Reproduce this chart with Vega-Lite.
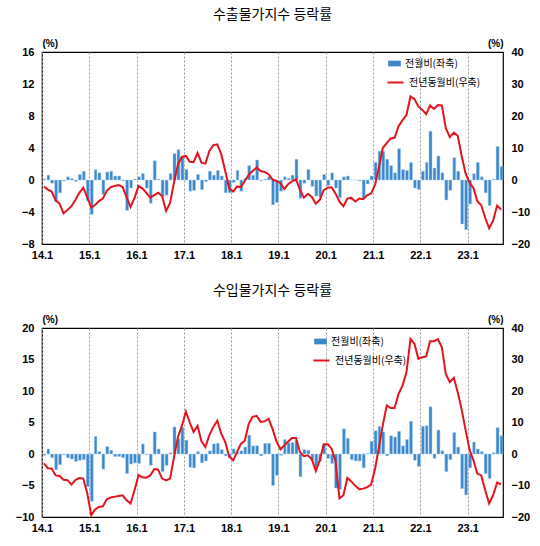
{
  "$schema": "https://vega.github.io/schema/vega-lite/v6.json",
  "padding": {"left": 14, "right": 10, "top": 7, "bottom": 4},
  "spacing": 22,
  "resolve": {"scale": {"color": "independent", "stroke": "independent"}},
  "config": {
    "view": {"stroke": "#000", "strokeWidth": 1.2},
    "font": "Liberation Sans",
    "axis": {
      "labelFont": "Liberation Sans",
      "labelFontWeight": "bold",
      "labelFontSize": 11,
      "labelColor": "#000",
      "labelOverlap": false,
      "ticks": false,
      "domain": false,
      "grid": false,
      "titleFont": "Liberation Sans",
      "titleFontWeight": "bold",
      "titleFontSize": 10,
      "titleColor": "#000"
    },
    "title": {"font": "Noto Sans CJK KR", "fontSize": 14, "fontWeight": "normal", "color": "#000", "anchor": "middle", "offset": 16},
    "legend": {"labelFont": "Noto Sans CJK KR", "labelFontSize": 10, "labelColor": "#000", "title": null}
  },
  "vconcat": [
    {
      "title": "수출물가지수 등락률",
      "width": 461,
      "height": 192,
      "data": {
        "format": {"parse": {"d": "date:'%Y-%m'"}},
        "values": [
          {"d": "2014-01", "m": 0.1, "y": -2.0}, {"d": "2014-02", "m": 0.6, "y": -3.0}, {"d": "2014-03", "m": -0.4, "y": -3.6},
          {"d": "2014-04", "m": -2.7, "y": -6.4}, {"d": "2014-05", "m": -1.6, "y": -7.4}, {"d": "2014-06", "m": -0.1, "y": -10.4},
          {"d": "2014-07", "m": 0.4, "y": -9.4}, {"d": "2014-08", "m": 0.2, "y": -8.2}, {"d": "2014-09", "m": -0.2, "y": -6.2},
          {"d": "2014-10", "m": 0.7, "y": -4.0}, {"d": "2014-11", "m": 1.1, "y": -2.4}, {"d": "2014-12", "m": -2.6, "y": -5.4},
          {"d": "2015-01", "m": -4.3, "y": -8.6}, {"d": "2015-02", "m": 1.3, "y": -7.8}, {"d": "2015-03", "m": 0.9, "y": -6.6},
          {"d": "2015-04", "m": -1.8, "y": -5.8}, {"d": "2015-05", "m": 1.0, "y": -3.4}, {"d": "2015-06", "m": 1.1, "y": -2.2},
          {"d": "2015-07", "m": 0.5, "y": -1.9}, {"d": "2015-08", "m": 0.5, "y": -1.6}, {"d": "2015-09", "m": -0.1, "y": -2.2},
          {"d": "2015-10", "m": -3.8, "y": -5.4}, {"d": "2015-11", "m": -1.0, "y": -8.4}, {"d": "2015-12", "m": 0.1, "y": -5.6},
          {"d": "2016-01", "m": 0.4, "y": -1.9}, {"d": "2016-02", "m": 0.8, "y": -2.6}, {"d": "2016-03", "m": -1.0, "y": -4.0},
          {"d": "2016-04", "m": -2.9, "y": -5.5}, {"d": "2016-05", "m": 2.4, "y": -4.7}, {"d": "2016-06", "m": 0.1, "y": -4.0},
          {"d": "2016-07", "m": -2.1, "y": -5.0}, {"d": "2016-08", "m": -1.9, "y": -9.7}, {"d": "2016-09", "m": 0.8, "y": -7.2},
          {"d": "2016-10", "m": 3.3, "y": -0.8}, {"d": "2016-11", "m": 3.8, "y": 4.9}, {"d": "2016-12", "m": 2.9, "y": 7.2},
          {"d": "2017-01", "m": 1.3, "y": 7.5}, {"d": "2017-02", "m": -1.4, "y": 5.7}, {"d": "2017-03", "m": -1.3, "y": 5.6},
          {"d": "2017-04", "m": 0.7, "y": 8.5}, {"d": "2017-05", "m": -1.2, "y": 5.4}, {"d": "2017-06", "m": -0.2, "y": 5.1},
          {"d": "2017-07", "m": 1.1, "y": 9.1}, {"d": "2017-08", "m": 0.6, "y": 10.9}, {"d": "2017-09", "m": 1.2, "y": 11.1},
          {"d": "2017-10", "m": 0.5, "y": 8.0}, {"d": "2017-11", "m": -1.6, "y": 2.8}, {"d": "2017-12", "m": -1.6, "y": -2.6},
          {"d": "2018-01", "m": -0.3, "y": -3.6}, {"d": "2018-02", "m": 1.2, "y": -2.0}, {"d": "2018-03", "m": -1.4, "y": -2.2},
          {"d": "2018-04", "m": 0.2, "y": -0.3}, {"d": "2018-05", "m": 1.8, "y": 1.6}, {"d": "2018-06", "m": 0.6, "y": 2.8},
          {"d": "2018-07", "m": 2.5, "y": 3.9}, {"d": "2018-08", "m": -0.1, "y": 2.8}, {"d": "2018-09", "m": 0.1, "y": 2.5},
          {"d": "2018-10", "m": 0.4, "y": 1.8}, {"d": "2018-11", "m": -3.1, "y": 0.2}, {"d": "2018-12", "m": -2.8, "y": -0.3},
          {"d": "2019-01", "m": -1.4, "y": -1.0}, {"d": "2019-02", "m": 0.4, "y": -2.8}, {"d": "2019-03", "m": 0.2, "y": -1.3},
          {"d": "2019-04", "m": 0.6, "y": -0.4}, {"d": "2019-05", "m": 2.6, "y": 0.2}, {"d": "2019-06", "m": -2.3, "y": -3.0},
          {"d": "2019-07", "m": -0.4, "y": -5.5}, {"d": "2019-08", "m": 1.3, "y": -4.3}, {"d": "2019-09", "m": -0.8, "y": -5.3},
          {"d": "2019-10", "m": -2.0, "y": -7.4}, {"d": "2019-11", "m": -2.1, "y": -6.2}, {"d": "2019-12", "m": 0.7, "y": -3.2},
          {"d": "2020-01", "m": -0.7, "y": -2.4}, {"d": "2020-02", "m": 0.9, "y": -2.3}, {"d": "2020-03", "m": -1.0, "y": -4.2},
          {"d": "2020-04", "m": -2.2, "y": -6.8}, {"d": "2020-05", "m": 0.4, "y": -8.2}, {"d": "2020-06", "m": 0.5, "y": -5.8},
          {"d": "2020-07", "m": 0.0, "y": -5.6}, {"d": "2020-08", "m": 0.0, "y": -6.7}, {"d": "2020-09", "m": -0.1, "y": -5.8},
          {"d": "2020-10", "m": -2.3, "y": -6.0}, {"d": "2020-11", "m": -0.5, "y": -4.8}, {"d": "2020-12", "m": 0.5, "y": -4.2},
          {"d": "2021-01", "m": 2.2, "y": -1.5}, {"d": "2021-02", "m": 3.6, "y": 4.0}, {"d": "2021-03", "m": 3.6, "y": 10.0},
          {"d": "2021-04", "m": 2.6, "y": 11.5}, {"d": "2021-05", "m": 1.8, "y": 13.0}, {"d": "2021-06", "m": 0.9, "y": 13.2},
          {"d": "2021-07", "m": 3.9, "y": 16.8}, {"d": "2021-08", "m": 1.3, "y": 18.7}, {"d": "2021-09", "m": 1.2, "y": 20.4},
          {"d": "2021-10", "m": 2.2, "y": 26.1}, {"d": "2021-11", "m": -1.0, "y": 25.3}, {"d": "2021-12", "m": -1.2, "y": 23.0},
          {"d": "2022-01", "m": 1.1, "y": 21.9}, {"d": "2022-02", "m": 2.2, "y": 20.6}, {"d": "2022-03", "m": 6.1, "y": 23.3},
          {"d": "2022-04", "m": 1.5, "y": 22.2}, {"d": "2022-05", "m": 3.0, "y": 23.4}, {"d": "2022-06", "m": 0.9, "y": 23.3},
          {"d": "2022-07", "m": -2.5, "y": 16.2}, {"d": "2022-08", "m": -1.3, "y": 13.4}, {"d": "2022-09", "m": 2.8, "y": 14.8},
          {"d": "2022-10", "m": 1.1, "y": 13.8}, {"d": "2022-11", "m": -5.5, "y": 7.5}, {"d": "2022-12", "m": -6.2, "y": 2.0},
          {"d": "2023-01", "m": -3.0, "y": -0.9}, {"d": "2023-02", "m": 0.8, "y": -2.5}, {"d": "2023-03", "m": 2.2, "y": -6.6},
          {"d": "2023-04", "m": 0.4, "y": -7.9}, {"d": "2023-05", "m": -1.6, "y": -11.8}, {"d": "2023-06", "m": -3.2, "y": -15.1},
          {"d": "2023-07", "m": 0.1, "y": -12.7}, {"d": "2023-08", "m": 4.2, "y": -8.0}, {"d": "2023-09", "m": 1.7, "y": -9.2}
        ]
      },
      "encoding": {
        "x": {
          "field": "d", "timeUnit": "yearmonth", "type": "temporal",
          "scale": {"domain": [{"year": 2014, "month": 1, "date": 1}, {"year": 2023, "month": 10, "date": 1}]},
          "axis": {"title": null, "format": "%y.%-m", "tickCount": {"interval": "year", "step": 1}, "labelFlush": false, "labelPadding": 5, "grid": true, "gridDash": [2, 2], "gridColor": "#9a9a9a"}
        }
      },
      "layer": [
        {
          "encoding": {
            "y": {"type": "quantitative", "scale": {"domain": [-8, 16]},
              "axis": {"values": [-8, -4, 0, 4, 8, 12, 16], "labelOverlap": false, "labelPadding": 8, "title": "(%)", "titleAngle": 0, "titleX": 0, "titleY": -4, "titleAlign": "left", "titleBaseline": "bottom"}}
          },
          "layer": [
            {
              "mark": {"type": "bar", "stroke": "#a9d2f2", "strokeWidth": 0.5},
              "encoding": {
                "y": {"field": "m", "type": "quantitative", "scale": {"domain": [-8, 16]},
                  "axis": {"values": [-8, -4, 0, 4, 8, 12, 16], "labelOverlap": false, "labelPadding": 8, "title": "(%)", "titleAngle": 0, "titleX": 0, "titleY": -4, "titleAlign": "left", "titleBaseline": "bottom"}},
                "color": {"datum": "전월비(좌축)", "type": "nominal", "scale": {"range": ["#3b87c9"]},
                  "legend": {"orient": "none", "legendX": 346, "legendY": 5, "symbolType": "M-1,-0.45H1V0.45H-1Z", "symbolSize": 160, "symbolStrokeWidth": 0}}
              }
            },
            {
              "mark": {"type": "rule", "color": "#8fc3ea", "strokeWidth": 1},
              "encoding": {
                "y": {"datum": 0, "type": "quantitative", "scale": {"domain": [-8, 16]},
                  "axis": {"values": [-8, -4, 0, 4, 8, 12, 16], "labelOverlap": false, "labelPadding": 8, "title": "(%)", "titleAngle": 0, "titleX": 0, "titleY": -4, "titleAlign": "left", "titleBaseline": "bottom"}}
              }
            }
          ]
        },
        {
          "mark": {"type": "line", "strokeWidth": 2},
          "encoding": {
            "x": {"field": "d", "timeUnit": "yearmonth", "type": "temporal", "bandPosition": 0.5,
              "scale": {"domain": [{"year": 2014, "month": 1, "date": 1}, {"year": 2023, "month": 10, "date": 1}]}},
            "y": {"field": "y", "type": "quantitative", "scale": {"domain": [-20, 40]},
              "axis": {"orient": "right", "values": [-20, -10, 0, 10, 20, 30, 40], "labelOverlap": false, "labelPadding": 8, "title": "(%)", "titleAngle": 0, "titleX": 0, "titleY": -4, "titleAlign": "right", "titleBaseline": "bottom"}},
            "stroke": {"datum": "전년동월비(우축)", "type": "nominal", "scale": {"range": ["#e3141d"]},
              "legend": {"orient": "none", "legendX": 344, "legendY": 21, "symbolType": "stroke", "symbolSize": 260, "symbolStrokeWidth": 2}}
          }
        }
      ],
      "resolve": {"scale": {"y": "independent"}}
    },
    {
      "title": "수입물가지수 등락률",
      "width": 461,
      "height": 189,
      "data": {
        "format": {"parse": {"d": "date:'%Y-%m'"}},
        "values": [
          {"d": "2014-01", "m": -0.2, "y": -3.0}, {"d": "2014-02", "m": 0.8, "y": -4.5}, {"d": "2014-03", "m": -0.6, "y": -4.6},
          {"d": "2014-04", "m": -2.5, "y": -6.8}, {"d": "2014-05", "m": -1.7, "y": -7.0}, {"d": "2014-06", "m": -0.1, "y": -8.2},
          {"d": "2014-07", "m": -0.6, "y": -8.3}, {"d": "2014-08", "m": -0.8, "y": -9.7}, {"d": "2014-09", "m": -1.2, "y": -8.3},
          {"d": "2014-10", "m": -1.0, "y": -7.6}, {"d": "2014-11", "m": -0.9, "y": -7.8}, {"d": "2014-12", "m": -5.2, "y": -12.5},
          {"d": "2015-01", "m": -7.5, "y": -19.4}, {"d": "2015-02", "m": 2.8, "y": -17.6}, {"d": "2015-03", "m": 0.4, "y": -16.8},
          {"d": "2015-04", "m": -2.4, "y": -16.6}, {"d": "2015-05", "m": 1.2, "y": -14.4}, {"d": "2015-06", "m": 0.6, "y": -13.8},
          {"d": "2015-07", "m": -0.4, "y": -13.6}, {"d": "2015-08", "m": -0.4, "y": -13.3}, {"d": "2015-09", "m": -0.6, "y": -13.1},
          {"d": "2015-10", "m": -3.1, "y": -14.7}, {"d": "2015-11", "m": -1.6, "y": -15.7}, {"d": "2015-12", "m": -1.4, "y": -11.5},
          {"d": "2016-01", "m": -1.5, "y": -6.7}, {"d": "2016-02", "m": 1.6, "y": -7.4}, {"d": "2016-03", "m": -0.1, "y": -7.5},
          {"d": "2016-04", "m": -1.8, "y": -6.8}, {"d": "2016-05", "m": 3.5, "y": -4.8}, {"d": "2016-06", "m": 0.8, "y": -5.0},
          {"d": "2016-07", "m": -2.8, "y": -7.8}, {"d": "2016-08", "m": -1.8, "y": -8.4}, {"d": "2016-09", "m": 0.2, "y": -7.8},
          {"d": "2016-10", "m": 4.3, "y": -1.0}, {"d": "2016-11", "m": 2.4, "y": 5.4}, {"d": "2016-12", "m": 4.2, "y": 9.0},
          {"d": "2017-01", "m": 2.2, "y": 13.5}, {"d": "2017-02", "m": -2.1, "y": 10.0}, {"d": "2017-03", "m": -2.2, "y": 7.0},
          {"d": "2017-04", "m": 0.4, "y": 9.0}, {"d": "2017-05", "m": -1.4, "y": 4.0}, {"d": "2017-06", "m": -1.1, "y": 2.2},
          {"d": "2017-07", "m": 0.5, "y": 6.0}, {"d": "2017-08", "m": 1.6, "y": 8.6}, {"d": "2017-09", "m": 1.7, "y": 10.6},
          {"d": "2017-10", "m": 0.7, "y": 6.4}, {"d": "2017-11", "m": -0.3, "y": 3.8}, {"d": "2017-12", "m": -0.6, "y": -0.8},
          {"d": "2018-01", "m": 0.8, "y": -2.0}, {"d": "2018-02", "m": 0.3, "y": 0.6}, {"d": "2018-03", "m": 0.5, "y": 3.2},
          {"d": "2018-04", "m": 1.1, "y": 4.2}, {"d": "2018-05", "m": 3.0, "y": 9.6}, {"d": "2018-06", "m": 1.3, "y": 11.8},
          {"d": "2018-07", "m": 1.3, "y": 12.1}, {"d": "2018-08", "m": -0.3, "y": 10.2}, {"d": "2018-09", "m": 1.7, "y": 10.4},
          {"d": "2018-10", "m": 1.7, "y": 11.2}, {"d": "2018-11", "m": -5.0, "y": 8.0}, {"d": "2018-12", "m": -3.4, "y": 4.0},
          {"d": "2019-01", "m": -0.2, "y": 1.5}, {"d": "2019-02", "m": 2.3, "y": 2.7}, {"d": "2019-03", "m": 1.8, "y": 4.0},
          {"d": "2019-04", "m": 1.8, "y": 5.1}, {"d": "2019-05", "m": 2.2, "y": 5.1}, {"d": "2019-06", "m": -3.6, "y": 0.6},
          {"d": "2019-07", "m": 0.7, "y": -0.7}, {"d": "2019-08", "m": 0.6, "y": -0.4}, {"d": "2019-09", "m": -1.0, "y": -1.7},
          {"d": "2019-10", "m": -2.3, "y": -5.4}, {"d": "2019-11", "m": -1.2, "y": -2.0}, {"d": "2019-12", "m": 1.6, "y": 3.1},
          {"d": "2020-01", "m": -0.7, "y": 3.1}, {"d": "2020-02", "m": -1.5, "y": 1.7}, {"d": "2020-03", "m": -5.4, "y": -2.3},
          {"d": "2020-04", "m": -5.6, "y": -14.1}, {"d": "2020-05", "m": 4.0, "y": -13.1}, {"d": "2020-06", "m": 2.5, "y": -7.6},
          {"d": "2020-07", "m": -0.9, "y": -8.7}, {"d": "2020-08", "m": -1.1, "y": -10.1}, {"d": "2020-09", "m": -1.1, "y": -11.2},
          {"d": "2020-10", "m": -2.2, "y": -11.0}, {"d": "2020-11", "m": 0.1, "y": -10.5}, {"d": "2020-12", "m": 2.0, "y": -9.7},
          {"d": "2021-01", "m": 3.7, "y": -4.6}, {"d": "2021-02", "m": 4.4, "y": 2.2}, {"d": "2021-03", "m": 3.5, "y": 9.1},
          {"d": "2021-04", "m": -0.3, "y": 15.4}, {"d": "2021-05", "m": 2.9, "y": 14.6}, {"d": "2021-06", "m": 2.7, "y": 14.6},
          {"d": "2021-07", "m": 3.6, "y": 19.1}, {"d": "2021-08", "m": 1.3, "y": 21.8}, {"d": "2021-09", "m": 2.3, "y": 26.0},
          {"d": "2021-10", "m": 5.2, "y": 36.5}, {"d": "2021-11", "m": -1.0, "y": 35.0}, {"d": "2021-12", "m": -2.0, "y": 30.2},
          {"d": "2022-01", "m": 4.4, "y": 30.7}, {"d": "2022-02", "m": 4.5, "y": 31.0}, {"d": "2022-03", "m": 7.5, "y": 35.8},
          {"d": "2022-04", "m": -0.7, "y": 35.8}, {"d": "2022-05", "m": 3.8, "y": 36.5}, {"d": "2022-06", "m": 0.5, "y": 33.9},
          {"d": "2022-07", "m": -2.8, "y": 25.4}, {"d": "2022-08", "m": -0.9, "y": 22.8}, {"d": "2022-09", "m": 3.4, "y": 24.2},
          {"d": "2022-10", "m": 1.1, "y": 19.6}, {"d": "2022-11", "m": -5.5, "y": 14.1}, {"d": "2022-12", "m": -6.5, "y": 7.5},
          {"d": "2023-01", "m": -2.2, "y": 1.2}, {"d": "2023-02", "m": 1.9, "y": -2.0}, {"d": "2023-03", "m": 0.8, "y": -6.2},
          {"d": "2023-04", "m": 0.4, "y": -6.8}, {"d": "2023-05", "m": -3.1, "y": -11.5}, {"d": "2023-06", "m": -3.9, "y": -15.7},
          {"d": "2023-07", "m": 0.2, "y": -13.1}, {"d": "2023-08", "m": 4.2, "y": -9.1}, {"d": "2023-09", "m": 2.9, "y": -9.6}
        ]
      },
      "encoding": {
        "x": {
          "field": "d", "timeUnit": "yearmonth", "type": "temporal",
          "scale": {"domain": [{"year": 2014, "month": 1, "date": 1}, {"year": 2023, "month": 10, "date": 1}]},
          "axis": {"title": null, "format": "%y.%-m", "tickCount": {"interval": "year", "step": 1}, "labelFlush": false, "labelPadding": 5, "grid": true, "gridDash": [2, 2], "gridColor": "#9a9a9a"}
        }
      },
      "layer": [
        {
          "layer": [
            {
              "mark": {"type": "bar", "stroke": "#a9d2f2", "strokeWidth": 0.5},
              "encoding": {
                "y": {"field": "m", "type": "quantitative", "scale": {"domain": [-10, 20]},
                  "axis": {"values": [-10, -5, 0, 5, 10, 15, 20], "labelOverlap": false, "labelPadding": 8, "title": "(%)", "titleAngle": 0, "titleX": 0, "titleY": -4, "titleAlign": "left", "titleBaseline": "bottom"}},
                "color": {"datum": "전월비(좌축)", "type": "nominal", "scale": {"range": ["#3b87c9"]},
                  "legend": {"orient": "none", "legendX": 272, "legendY": 7, "symbolType": "M-1,-0.45H1V0.45H-1Z", "symbolSize": 160, "symbolStrokeWidth": 0}}
              }
            },
            {
              "mark": {"type": "rule", "color": "#8fc3ea", "strokeWidth": 1},
              "encoding": {
                "y": {"datum": 0, "type": "quantitative", "scale": {"domain": [-10, 20]},
                  "axis": {"values": [-10, -5, 0, 5, 10, 15, 20], "labelOverlap": false, "labelPadding": 8, "title": "(%)", "titleAngle": 0, "titleX": 0, "titleY": -4, "titleAlign": "left", "titleBaseline": "bottom"}}
              }
            }
          ]
        },
        {
          "mark": {"type": "line", "strokeWidth": 2},
          "encoding": {
            "x": {"field": "d", "timeUnit": "yearmonth", "type": "temporal", "bandPosition": 0.5,
              "scale": {"domain": [{"year": 2014, "month": 1, "date": 1}, {"year": 2023, "month": 10, "date": 1}]}},
            "y": {"field": "y", "type": "quantitative", "scale": {"domain": [-20, 40]},
              "axis": {"orient": "right", "values": [-20, -10, 0, 10, 20, 30, 40], "labelOverlap": false, "labelPadding": 8, "title": "(%)", "titleAngle": 0, "titleX": 0, "titleY": -4, "titleAlign": "right", "titleBaseline": "bottom"}},
            "stroke": {"datum": "전년동월비(우축)", "type": "nominal", "scale": {"range": ["#e3141d"]},
              "legend": {"orient": "none", "legendX": 270, "legendY": 23, "symbolType": "stroke", "symbolSize": 260, "symbolStrokeWidth": 2}}
          }
        }
      ],
      "resolve": {"scale": {"y": "independent"}}
    }
  ]
}
